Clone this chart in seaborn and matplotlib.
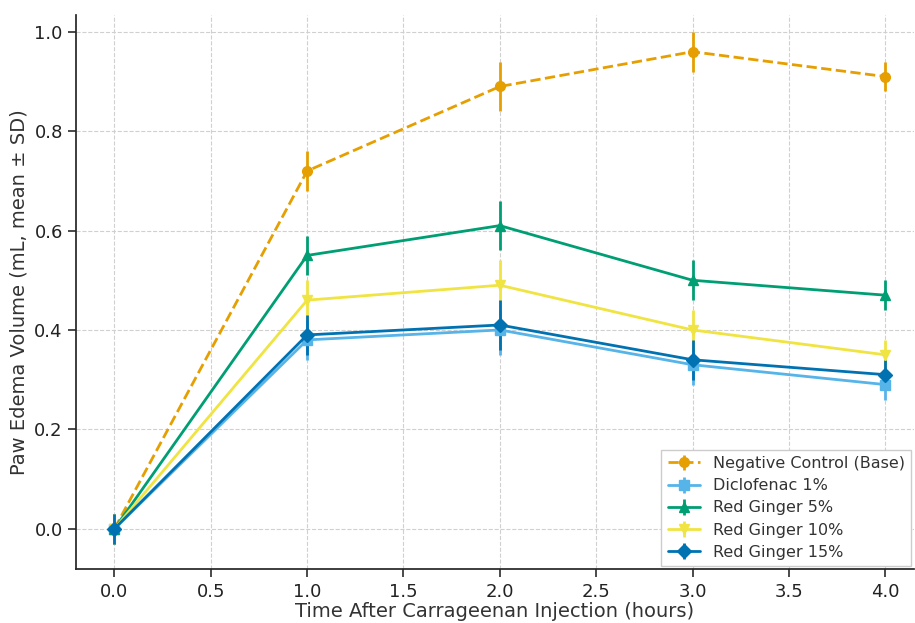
import numpy as np
import seaborn as sns
from matplotlib import pyplot as plt

hours = [0.0, 1.0, 2.0, 3.0, 4.0]

groups = ["Negative Control (Base)", "Diclofenac 1%", "Red Ginger 5%",
          "Red Ginger 10%", "Red Ginger 15%"]

neg_mean = [0.00, 0.72, 0.89, 0.96, 0.91]
neg_sd = [0.03, 0.04, 0.05, 0.04, 0.03]
diclo_mean = [0.00, 0.38, 0.40, 0.33, 0.29]
diclo_sd = [0.03, 0.04, 0.05, 0.04, 0.03]
rg5_mean = [0.00, 0.55, 0.61, 0.50, 0.47]
rg5_sd = [0.03, 0.04, 0.05, 0.04, 0.03]
rg10_mean = [0.00, 0.46, 0.49, 0.40, 0.35]
rg10_sd = [0.03, 0.04, 0.05, 0.04, 0.03]
rg15_mean = [0.00, 0.39, 0.41, 0.34, 0.31]
rg15_sd = [0.03, 0.04, 0.05, 0.04, 0.03]

means = [neg_mean, diclo_mean, rg5_mean, rg10_mean, rg15_mean]
sds = [neg_sd, diclo_sd, rg5_sd, rg10_sd, rg15_sd]
markers = ["o", "s", "^", "v", "D"]
styles = ["--", "-", "-", "-", "-"]

sns.set_theme(style="ticks")
colors = sns.color_palette(["#E69F00", "#56B4E9", "#009E73", "#F0E442", "#0072B2"])

fig, ax = plt.subplots(figsize=(9.15, 6.23), dpi=100)
fig.subplots_adjust(left=0.083, right=0.999, top=0.976, bottom=0.086)

for name, m, s, mk, ls, c in zip(groups, means, sds, markers, styles, colors):
    ax.errorbar(hours, m, yerr=s, label=name, color=c, marker=mk, linestyle=ls,
                linewidth=2, elinewidth=2, capsize=0, markersize=7)

ax.set_xlim(-0.2, 4.15)
ax.set_ylim(-0.082, 1.034)
ax.set_xticks(np.arange(0, 4.01, 0.5))
ax.set_yticks(np.arange(0, 1.01, 0.2))
ax.grid(True, linestyle="--", color="#d0d0d0", linewidth=0.8)
ax.tick_params(labelsize=13, colors="#333333", labelcolor="#222222")
ax.set_xlabel("Time After Carrageenan Injection (hours)", fontsize=14,
              color="#333333", labelpad=1)
ax.set_ylabel("Paw Edema Volume (mL, mean ± SD)", fontsize=14, color="#333333")
sns.despine(ax=ax)

leg = ax.legend(loc="lower right", fontsize=11.5, frameon=True, fancybox=False,
                framealpha=1, borderaxespad=0.2, labelspacing=0.45)
leg.get_frame().set_edgecolor("#cccccc")
for t in leg.get_texts():
    t.set_color("#333333")

fig.savefig("out.png", dpi=100)
